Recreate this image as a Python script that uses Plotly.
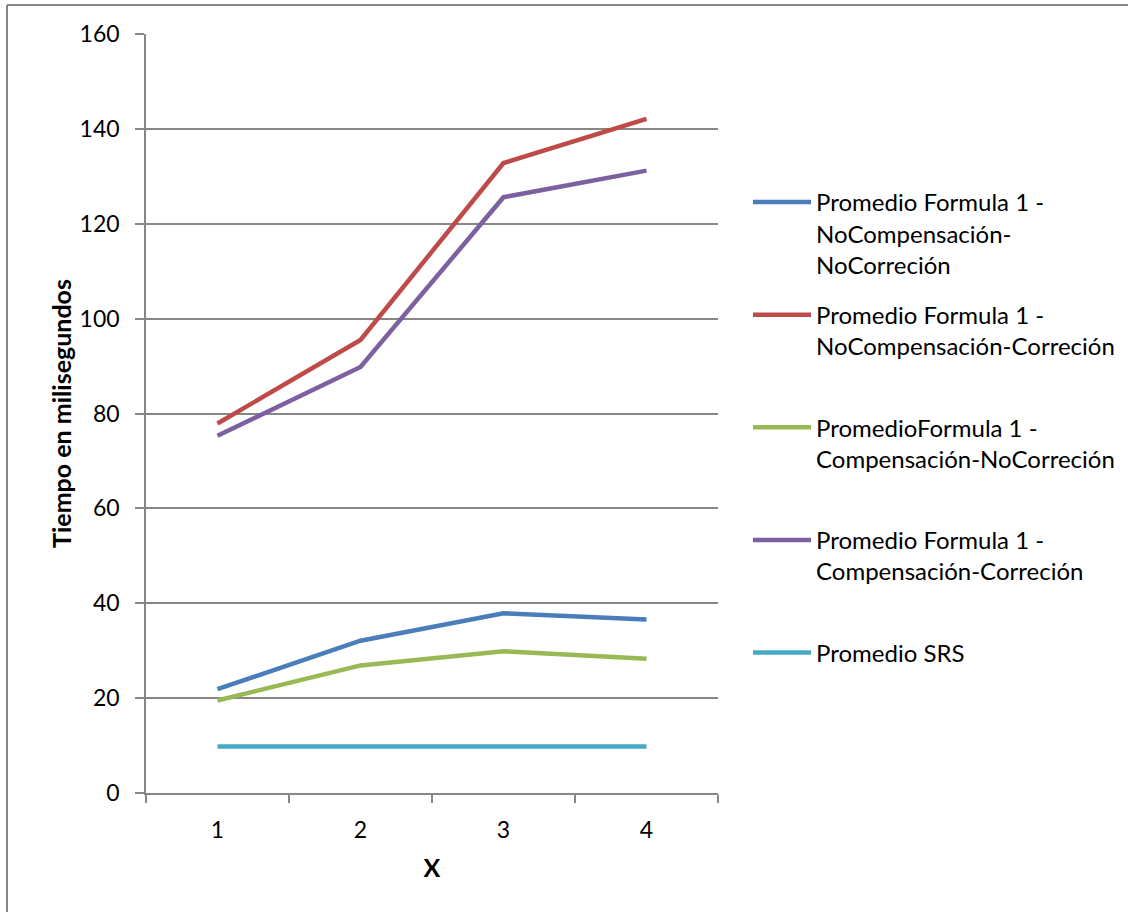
import plotly.graph_objects as go

categories = ["1", "2", "3", "4"]
series_names = [
    "Promedio Formula 1 -<br>NoCompensación-<br>NoCorreción",
    "Promedio Formula 1 -<br>NoCompensación-Correción",
    "PromedioFormula 1 -<br>Compensación-NoCorreción",
    "Promedio Formula 1 -<br>Compensación-Correción",
    "Promedio SRS",
]
blue_vals = [21.9, 32.1, 37.9, 36.6]
red_vals = [77.9, 95.5, 132.8, 142.1]
green_vals = [19.5, 26.9, 29.9, 28.3]
purple_vals = [75.3, 89.8, 125.6, 131.2]
srs_vals = [9.8, 9.8, 9.9, 9.8]
colors = ["#4A7EBB", "#BE4B48", "#98B954", "#7D60A0", "#46AAC5"]
y_ticks = [0, 20, 40, 60, 80, 100, 120, 140, 160]

FONT = "Lato"
W, H = 1137, 912
L, R, T, B = 146, 718, 34, 793
LEG_SIZE = 24
TICK_SIZE = 23
TITLE_SIZE = 25

fig = go.Figure()
all_vals = [blue_vals, red_vals, green_vals, purple_vals, srs_vals]
for i, (name, vals, col) in enumerate(zip(series_names, all_vals, colors)):
    nlines = name.count("<br>") + 1
    label = name + "<br> " * (3 - nlines)
    fig.add_trace(go.Scatter(
        x=categories, y=vals, mode="lines", name=label,
        legendgroup=f"g{i}",
        line=dict(color=col, width=4.5),
    ))

fig.update_layout(
    width=W, height=H,
    margin=dict(l=L, r=W - R, t=T, b=H - B, pad=0),
    paper_bgcolor="white", plot_bgcolor="white",
    font=dict(family=FONT, size=LEG_SIZE, color="#000000"),
    showlegend=True,
    legend=dict(
        x=(748 - L) / (R - L), xanchor="left",
        y=(B - 180) / (B - T), yanchor="top",
        valign="top", traceorder="grouped",
        font=dict(family=FONT, size=LEG_SIZE, color="#000000"),
        itemwidth=58, tracegroupgap=16,
        bgcolor="rgba(0,0,0,0)",
    ),
)
fig.update_xaxes(
    type="category", range=[-0.5, 3.5], tickson="boundaries",
    ticks="outside", ticklen=8, tickcolor="#868686", tickwidth=1.5,
    showline=True, linecolor="#868686", linewidth=1.5,
    showgrid=False, zeroline=False,
    ticklabelstandoff=16,
    tickfont=dict(family=FONT, size=TICK_SIZE, color="#000000"),
    title=dict(text="<b>X</b>", font=dict(family=FONT, size=TITLE_SIZE, color="#000000"), standoff=17),
)
fig.update_yaxes(
    range=[0, 160], tickvals=y_ticks, ticktext=[str(v) for v in y_ticks],
    ticks="outside", ticklen=9, tickcolor="#868686", tickwidth=1.5,
    showline=True, linecolor="#868686", linewidth=1.5,
    showgrid=True, gridcolor="#868686", gridwidth=1.5,
    zeroline=False,
    ticklabelstandoff=11,
    tickfont=dict(family=FONT, size=TICK_SIZE, color="#000000"),
    title=dict(text="<b>Tiempo en milisegundos</b>", font=dict(family=FONT, size=TITLE_SIZE, color="#000000"), standoff=1),
)

# outer chart border (top and left edges visible)
fig.add_shape(type="line", xref="paper", yref="paper",
              x0=(7 - L) / (R - L), x1=(1128 - L) / (R - L),
              y0=(B - 5) / (B - T), y1=(B - 5) / (B - T),
              line=dict(color="#868686", width=2))
fig.add_shape(type="line", xref="paper", yref="paper",
              x0=(7 - L) / (R - L), x1=(7 - L) / (R - L),
              y0=(B - 5) / (B - T), y1=(B - 930) / (B - T),
              line=dict(color="#868686", width=2))

fig.write_html("out.html")
